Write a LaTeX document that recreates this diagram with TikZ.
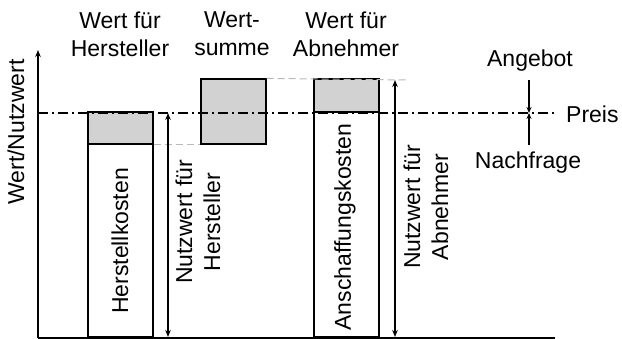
\documentclass[tikz,border=0pt]{standalone}
\usepackage{fontspec}
\setmainfont{Liberation Sans}
\usetikzlibrary{arrows.meta}
\begin{document}
\begin{tikzpicture}[x=1pt,y=1pt,
  txt/.style={font=\fontsize{23}{28}\selectfont, inner sep=0pt, align=center},
  gbox/.style={draw=black, line width=1.6pt, fill=gray!35, anchor=south west, inner sep=0pt},
  wbox/.style={draw=black, line width=1.6pt, fill=white, anchor=south west, inner sep=0pt},
  ax/.style={line width=1.3pt, -{Stealth[length=7pt,width=5.5pt]}},
  dar/.style={line width=1.3pt, {Stealth[length=7pt,width=5.5pt]}-{Stealth[length=7pt,width=5.5pt]}},
  sar/.style={line width=1.3pt, -{Stealth[length=6pt,width=5pt]}},
  gdash/.style={gray!55, line width=1pt, dash pattern=on 7pt off 4pt},
  dashdot/.style={line width=1.3pt, dash pattern=on 10pt off 4pt on 2pt off 4pt}]
\useasboundingbox (0,0) rectangle (622,339);
% coordinates
\coordinate (O) at (38,1);
\coordinate (Ytop) at (38,289);
\coordinate (Xend) at (555,1);
\coordinate (P0) at (38,226);
\coordinate (P1) at (557,226);
% boxes
\node[wbox, minimum width=65pt, minimum height=193pt] (hk) at (87,1) {};
\node[gbox, minimum width=65pt, minimum height=32pt] (hg) at (87,194) {};
\node[gbox, minimum width=65pt, minimum height=65pt] (ws) at (200,194) {};
\node[wbox, minimum width=65pt, minimum height=225pt] (ak) at (313,1) {};
\node[gbox, minimum width=65pt, minimum height=33pt] (ag) at (313,226) {};
% dashed helper lines
\coordinate (d2) at (408,259);
\draw[gdash] (hg.south east) -- (ws.south west);
\draw[gdash] (ws.north east) -- (d2);
% price line
\draw[dashdot] (P0) -- (P1);
% axes
\draw[line width=1.3pt] (O) -- (Xend);
\draw[ax] (O) -- (Ytop);
% Nutzwert arrows
\coordinate (n1t) at (168,226);
\coordinate (n1b) at (168,2);
\coordinate (n2t) at (395,259);
\coordinate (n2b) at (395,2);
\draw[dar] (n1b) -- (n1t);
\draw[dar] (n2b) -- (n2t);
% Angebot / Nachfrage arrows
\coordinate (at) at (529,259);
\coordinate (pm) at (529,226);
\coordinate (nb) at (529,194);
\draw[sar] (at) -- (pm);
\draw[sar] (nb) -- (pm);
% texts
\node[txt] (h1) at (120,305) {Wert für\\Hersteller};
\node[txt] (h2) at (232,305) {Wert-\\summe};
\node[txt] (h3) at (346,305) {Wert für\\Abnehmer};
\node[txt] (ang) at (530,278) {Angebot};
\node[txt] (nach) at (528,176) {Nachfrage};
\node[txt, anchor=west] (preis) at (566,225) {Preis};
\node[txt, rotate=90] (ylab) at (16,207) {Wert/Nutzwert};
\node[txt, rotate=90] (hkt) at (120,98) {Herstellkosten};
\node[txt, rotate=90] (akt) at (345,112) {Anschaffungskosten};
\node[txt, rotate=90] (nh) at (198,117) {Nutzwert für\\Hersteller};
\node[txt, rotate=90] (na) at (426,132) {Nutzwert für\\Abnehmer};
\end{tikzpicture}
\end{document}
